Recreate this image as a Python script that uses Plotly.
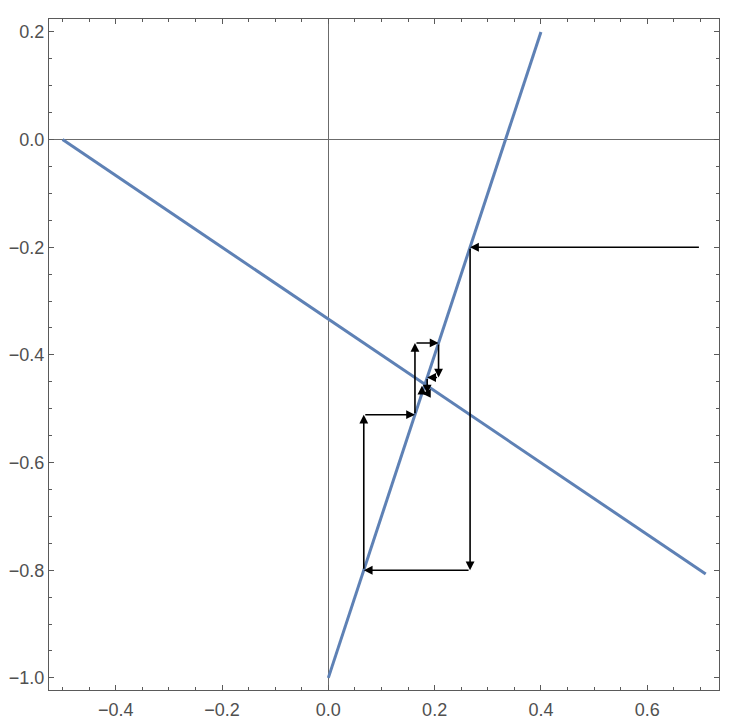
import plotly.graph_objects as go

# Line 1: y = -1/3 - 2x/3
line1_x = [-0.5, 0.71]
line1_y = [0.0, -0.807]
# Line 2: y = 3x - 1
line2_x = [0.0, 0.4]
line2_y = [-1.0, 0.2]

# Iteration path (arrows)
path_x = [0.7, 0.2667, 0.2667, 0.0667, 0.0667, 0.1630, 0.1630, 0.2074, 0.2074, 0.1860, 0.1860, 0.1761, 0.1761]
path_y = [-0.2, -0.2, -0.8, -0.8, -0.5111, -0.5111, -0.3778, -0.3778, -0.4420, -0.4420, -0.4716, -0.4716, -0.4573]

blue = "#5E81B5"
fig = go.Figure()
fig.add_trace(go.Scatter(x=line1_x, y=line1_y, mode="lines",
                         line=dict(color=blue, width=3), hoverinfo="skip"))
fig.add_trace(go.Scatter(x=line2_x, y=line2_y, mode="lines",
                         line=dict(color=blue, width=3), hoverinfo="skip"))

for i in range(len(path_x) - 1):
    fig.add_annotation(x=path_x[i + 1], y=path_y[i + 1], ax=path_x[i], ay=path_y[i],
                       xref="x", yref="y", axref="x", ayref="y",
                       showarrow=True, arrowhead=2, arrowsize=1.1, arrowwidth=1.6,
                       arrowcolor="black", standoff=0, startstandoff=0, text="")

axis_common = dict(
    showgrid=False, zeroline=True, zerolinecolor="#6b6b6b", zerolinewidth=1,
    showline=True, linecolor="#5a5a5a", linewidth=1, mirror="ticks",
    ticks="inside", ticklen=5, tickwidth=1, tickcolor="#5a5a5a",
    minor=dict(ticks="inside", ticklen=3, tickwidth=1, tickcolor="#5a5a5a", dtick=0.05, showgrid=False),
    tickfont=dict(family="Liberation Sans, Arial, sans-serif", size=18, color="#505050"),
    tickformat=".1f", dtick=0.2, automargin=False,
)
fig.update_xaxes(range=[-0.5255, 0.735], tick0=0, ticklabelstandoff=3, **axis_common)
fig.update_yaxes(range=[-1.0225, 0.224], tick0=0, **axis_common)

fig.update_layout(
    width=729, height=715,
    margin=dict(l=41, r=18, t=11, b=33, autoexpand=False),
    paper_bgcolor="white", plot_bgcolor="white",
    showlegend=False,
)
fig.write_html("out.html")
